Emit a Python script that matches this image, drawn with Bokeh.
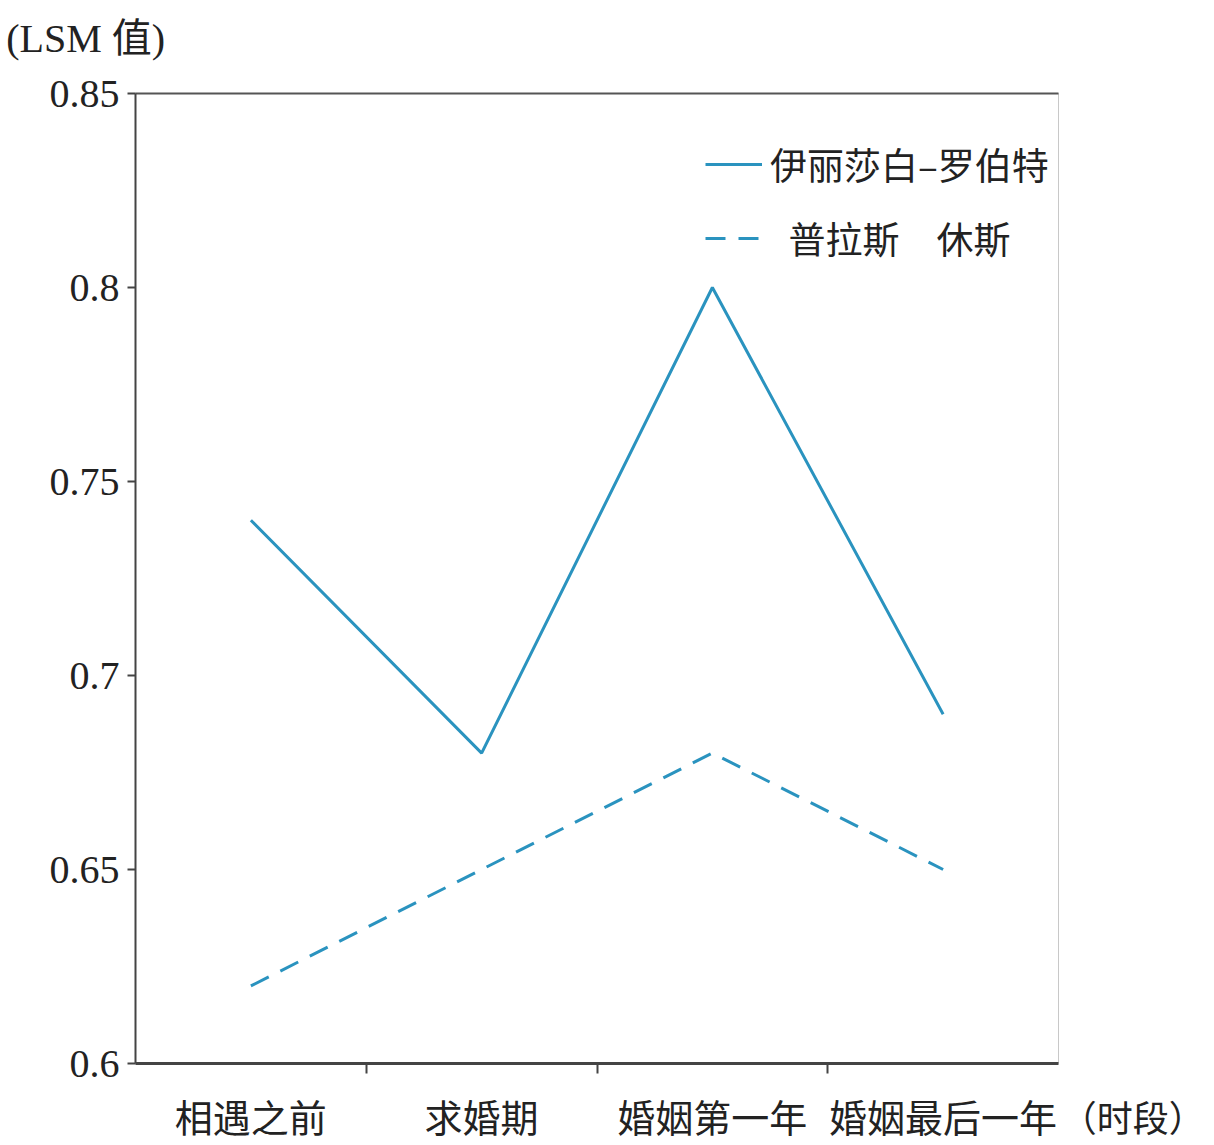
from bokeh.plotting import figure
from bokeh.models import FixedTicker, LinearAxis, Range1d, Legend, LegendItem, Label
from bokeh.embed import file_html
from bokeh.resources import INLINE

# --- data -------------------------------------------------------------
categories = ["相遇之前", "求婚期", "婚姻第一年", "婚姻最后一年"]
series_names = ["伊丽莎白–罗伯特", "\u2002普拉斯\u3000休斯"]
lsm_elizabeth_robert = [0.74, 0.68, 0.80, 0.69]
lsm_plath_hughes = [0.62, 0.65, 0.68, 0.65]
y_ticks = [0.6, 0.65, 0.7, 0.75, 0.8, 0.85]
y_tick_labels = ["0.6", "0.65", "0.7", "0.75", "0.8", "0.85"]
y_title = "(LSM 值)"
x_title = "（时段）"

# --- styling ----------------------------------------------------------
LINE_COLOR = "#2a93bf"
SERIF = "Liberation Serif"
CJK = "Noto Sans CJK SC"
TEXT_COLOR = "#222222"

# categories sit in the middle of unit-wide slots, separators between them
x_pos = [i + 0.5 for i in range(len(categories))]
separators = list(range(1, len(categories)))

p = figure(
    width=1214, height=1145,
    x_range=Range1d(0, len(categories)),
    y_range=Range1d(y_ticks[0], y_ticks[-1]),
    output_backend="svg", toolbar_location=None,
    x_axis_type=None, y_axis_type=None,
    min_border_left=135, min_border_right=156,
    min_border_top=93, min_border_bottom=75,
)
p.background_fill_color = "white"
p.border_fill_color = "white"
p.outline_line_color = "#c8c8c8"
p.outline_line_width = 1

# y axis
yaxis = LinearAxis(ticker=FixedTicker(ticks=y_ticks, minor_ticks=[]))
yaxis.major_label_overrides = {t: s for t, s in zip(y_ticks, y_tick_labels)}
yaxis.major_label_text_font = SERIF
yaxis.major_label_text_font_size = "40px"
yaxis.major_label_text_color = TEXT_COLOR
yaxis.major_label_standoff = 8
yaxis.major_tick_in = 0
yaxis.major_tick_out = 8
yaxis.major_tick_line_color = "#444444"
yaxis.major_tick_line_width = 2
yaxis.axis_line_color = "#444444"
yaxis.axis_line_width = 2
p.add_layout(yaxis, "left")

# x axis: labels at slot centres, short separator ticks between slots
xaxis = LinearAxis(ticker=FixedTicker(ticks=x_pos, minor_ticks=separators))
xaxis.major_label_overrides = {t: c for t, c in zip(x_pos, categories)}
xaxis.major_label_text_font = CJK
xaxis.major_label_text_font_size = "38px"
xaxis.major_label_text_color = TEXT_COLOR
xaxis.major_label_standoff = 14
xaxis.major_tick_in = 0
xaxis.major_tick_out = 0
xaxis.minor_tick_in = 0
xaxis.minor_tick_out = 10
xaxis.minor_tick_line_color = "#444444"
xaxis.minor_tick_line_width = 2
xaxis.axis_line_color = "#444444"
xaxis.axis_line_width = 3
p.add_layout(xaxis, "below")

# dark top edge of the frame
top_axis = LinearAxis(ticker=FixedTicker(ticks=[]))
top_axis.major_label_text_font_size = "0px"
top_axis.major_tick_out = 0
top_axis.major_tick_in = 0
top_axis.minor_tick_out = 0
top_axis.axis_line_color = "#555555"
top_axis.axis_line_width = 2
p.add_layout(top_axis, "above")

# horizontal gridlines
p.ygrid.ticker = FixedTicker(ticks=y_ticks[1:-1])
p.ygrid.grid_line_color = "#bdbdbd"
p.ygrid.grid_line_width = 2
p.xgrid.visible = False

# series
r1 = p.line(x_pos, lsm_elizabeth_robert, line_color=LINE_COLOR, line_width=3)
r2 = p.line(x_pos, lsm_plath_hughes, line_color=LINE_COLOR, line_width=3,
            line_dash="20 13")

legend = Legend(
    items=[LegendItem(label=series_names[0], renderers=[r1]),
           LegendItem(label=series_names[1], renderers=[r2])],
    location=(570, 798),
    padding=0, margin=0, spacing=20,
    glyph_width=57, glyph_height=40, label_height=40,
    label_standoff=8,
    label_text_font=CJK, label_text_font_size="37px",
    label_text_color=TEXT_COLOR,
    border_line_color=None, background_fill_alpha=0,
)
p.add_layout(legend, "center")

# axis titles, placed in the side panels so they are not clipped by the frame
p.add_layout(Label(x=-0.56, y=y_ticks[-1], y_offset=55, text=y_title,
                   text_font=f"'{SERIF}', '{CJK}'",
                   text_font_size="40px", text_color=TEXT_COLOR,
                   text_baseline="middle"), "above")
p.add_layout(Label(x=len(categories) + 0.01, y=y_ticks[0], y_offset=-52,
                   text=x_title, text_font=CJK, text_font_size="36px",
                   text_color=TEXT_COLOR, text_baseline="middle"), "right")

open("out.html", "w").write(file_html(p, INLINE))
